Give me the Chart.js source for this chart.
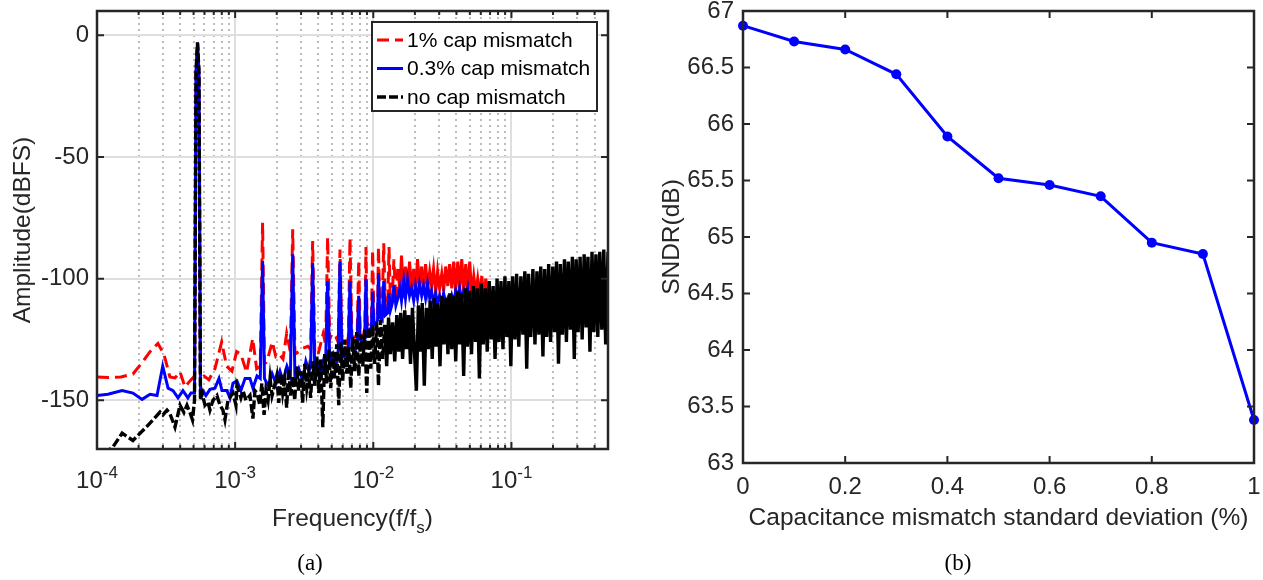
<!DOCTYPE html>
<html>
<head>
<meta charset="utf-8">
<script src="https://cdn.jsdelivr.net/npm/chart.js@4.4.1/dist/chart.umd.min.js"></script>
<style>
html, body { margin: 0; padding: 0; background: #fff; }
#wrap { position: relative; width: 1263px; height: 580px; overflow: hidden; }
canvas { position: absolute; top: 0; }
#ca { left: 0; width: 640px; height: 580px; }
#cb { left: 640px; width: 623px; height: 580px; }
.cap { position: absolute; top: 550px; font: 23px "Liberation Serif", "Times New Roman", serif; color: #000; transform: translateX(-50%); }
</style>
</head>
<body>
<div id="wrap">
<canvas id="ca" width="640" height="580"></canvas>
<canvas id="cb" width="623" height="580"></canvas>
<div class="cap" style="left:310px">(a)</div>
<div class="cap" style="left:958px">(b)</div>
</div>
<script>
const FONT = '"Liberation Sans", Arial, Helvetica, sans-serif';
const INK = '#262626';
const TICK_PX = 24, TITLE_PX = 24.5;

// (a) output spectrum, [f/fs, dBFS]
const red1pct = [
  [1.00e-4, -140.4], [1.20e-4, -140.6], [1.49e-4, -140.4], [1.82e-4, -139.2], [2.12e-4, -134.5], [2.42e-4, -130],
  [2.76e-4, -126.6], [3.05e-4, -131], [3.37e-4, -140.4], [3.67e-4, -140.8], [3.99e-4, -138.3], [4.33e-4, -144.5], [4.71e-4, -142],
  [5.08e-4, -140], [5.21e-4, -15], [5.34e-4, -3], [5.47e-4, -15], [5.61e-4, -141],
  [5.95e-4, -140], [6.46e-4, -141.5], [7.14e-4, -137], [7.99e-4, -126], [8.68e-4, -136], [9.48e-4, -138], [1.025e-3, -130],
  [1.10e-3, -131], [1.21e-3, -138.5], [1.34e-3, -124.6], [1.43e-3, -137],
  [1.52e-3, -136], [1.58e-3, -77], [1.63e-3, -135], [1.70e-3, -134], [1.856e-3, -126], [1.97e-3, -132], [2.085e-3, -131],
  [2.22e-3, -133], [2.36e-3, -122.5],
  [2.51e-3, -130], [2.61e-3, -79.7], [2.71e-3, -131], [2.89e-3, -130], [3.09e-3, -128.6], [3.36e-3, -127.8],
  [3.52e-3, -129], [3.64e-3, -84.5], [3.77e-3, -130], [3.97e-3, -131.4], [4.34e-3, -122.6],
  [4.52e-3, -127], [4.67e-3, -83], [4.84e-3, -125], [4.99e-3, -122.6], [5.36e-3, -124],
  [5.57e-3, -126], [5.74e-3, -88], [5.93e-3, -126], [6.34e-3, -127.8],
  [6.60e-3, -124], [6.78e-3, -83.5], [7.00e-3, -124], [7.36e-3, -124],
  [7.65e-3, -122], [7.84e-3, -92.5], [8.04e-3, -122], [8.45e-3, -124],
  [8.69e-3, -120], [8.85e-3, -87], [9.03e-3, -119], [9.45e-3, -118.5],
  [9.69e-3, -117], [9.89e-3, -88.4], [1.01e-2, -117], [1.057e-2, -115.7],
  [1.074e-2, -114], [1.09e-2, -87], [1.116e-2, -113], [1.16e-2, -112],
  [1.19e-2, -85.5], [1.223e-2, -112], [1.275e-2, -108],
  [1.30e-2, -87], [1.33e-2, -110], [1.375e-2, -106],
  [1.41e-2, -92], [1.457e-2, -109], [1.507e-2, -96],
  [1.558e-2, -105], [1.60e-2, -90.5], [1.66e-2, -108], [1.71e-2, -95], [1.77e-2, -106], [1.83e-2, -93], [1.89e-2, -104],
  [1.96e-2, -96], [2.02e-2, -107], [2.09e-2, -92], [2.16e-2, -103], [2.24e-2, -95], [2.31e-2, -105], [2.39e-2, -94],
  [2.47e-2, -104], [2.56e-2, -97], [2.64e-2, -103], [2.73e-2, -96], [2.83e-2, -106], [2.92e-2, -97], [3.02e-2, -104],
  [3.13e-2, -98], [3.23e-2, -105], [3.34e-2, -95], [3.46e-2, -103], [3.57e-2, -94], [3.70e-2, -104], [3.82e-2, -93],
  [3.95e-2, -105], [4.09e-2, -93], [4.22e-2, -104], [4.37e-2, -92], [4.52e-2, -106], [4.67e-2, -94], [4.83e-2, -105],
  [4.99e-2, -93], [5.16e-2, -107], [5.34e-2, -99], [5.52e-2, -106], [5.70e-2, -100], [5.90e-2, -107], [6.10e-2, -99],
  [6.30e-2, -108], [6.52e-2, -100], [6.74e-2, -110], [7.00e-2, -112]
];

const blue03pct = [
  [1.00e-4, -148], [1.20e-4, -147.5], [1.52e-4, -146], [1.82e-4, -147], [2.12e-4, -149.6], [2.42e-4, -147.5], [2.72e-4, -148],
  [2.99e-4, -136], [3.27e-4, -145], [3.55e-4, -146], [3.86e-4, -149], [4.19e-4, -146], [4.55e-4, -149], [4.79e-4, -147],
  [5.08e-4, -147], [5.21e-4, -15], [5.34e-4, -3], [5.47e-4, -15], [5.61e-4, -147],
  [5.85e-4, -146], [6.15e-4, -148], [6.57e-4, -145.5], [7.14e-4, -145], [7.64e-4, -141], [8.03e-4, -146], [8.72e-4, -146],
  [9.17e-4, -149], [9.64e-4, -143], [1.03e-3, -142], [1.10e-3, -146], [1.18e-3, -141], [1.28e-3, -141], [1.345e-3, -145],
  [1.44e-3, -140],
  [1.52e-3, -141], [1.58e-3, -92.8], [1.63e-3, -141], [1.73e-3, -144], [1.85e-3, -139], [1.97e-3, -143], [2.11e-3, -138],
  [2.22e-3, -142], [2.37e-3, -136],
  [2.51e-3, -140], [2.61e-3, -90], [2.71e-3, -141], [2.89e-3, -137], [3.09e-3, -142], [3.25e-3, -134], [3.42e-3, -138],
  [3.52e-3, -136], [3.64e-3, -93.6], [3.77e-3, -138], [3.97e-3, -135], [4.18e-3, -139], [4.39e-3, -133],
  [4.52e-3, -134], [4.67e-3, -101], [4.84e-3, -134], [5.10e-3, -131], [5.36e-3, -136],
  [5.57e-3, -130], [5.74e-3, -93], [5.93e-3, -131], [6.34e-3, -133],
  [6.60e-3, -128], [6.78e-3, -101], [7.00e-3, -128], [7.36e-3, -130],
  [7.65e-3, -126], [7.84e-3, -107], [8.04e-3, -125], [8.45e-3, -127],
  [8.69e-3, -122], [8.85e-3, -100], [9.03e-3, -123], [9.45e-3, -121],
  [9.69e-3, -120], [9.89e-3, -105.5], [1.01e-2, -119], [1.057e-2, -118],
  [1.074e-2, -117], [1.09e-2, -97.7], [1.116e-2, -116], [1.16e-2, -117],
  [1.19e-2, -101], [1.223e-2, -115], [1.275e-2, -114],
  [1.30e-2, -106], [1.33e-2, -113], [1.375e-2, -110],
  [1.41e-2, -102.8], [1.457e-2, -111], [1.507e-2, -108],
  [1.558e-2, -104], [1.60e-2, -109], [1.66e-2, -101], [1.71e-2, -108], [1.77e-2, -100.5], [1.83e-2, -107], [1.89e-2, -104],
  [1.96e-2, -109], [2.02e-2, -103], [2.09e-2, -108], [2.16e-2, -102], [2.24e-2, -107], [2.31e-2, -103], [2.39e-2, -108],
  [2.47e-2, -102], [2.56e-2, -108], [2.64e-2, -105], [2.73e-2, -110], [2.83e-2, -106], [2.92e-2, -110], [3.02e-2, -107],
  [3.13e-2, -111], [3.23e-2, -106], [3.34e-2, -110], [3.46e-2, -108], [3.57e-2, -111], [3.70e-2, -107], [3.82e-2, -110],
  [3.95e-2, -105], [4.09e-2, -109], [4.22e-2, -104], [4.37e-2, -109], [4.52e-2, -105], [4.67e-2, -108], [4.83e-2, -104],
  [4.99e-2, -110], [5.16e-2, -112]
];

const blackNone = [
  [1.00e-4, -176], [1.124e-4, -172], [1.31e-4, -169], [1.52e-4, -163.5], [1.82e-4, -166.5], [2.30e-4, -160.7], [2.86e-4, -154.8],
  [3.00e-4, -156], [3.21e-4, -154], [3.37e-4, -155.4], [3.67e-4, -161], [3.99e-4, -152], [4.26e-4, -155], [4.48e-4, -152],
  [4.71e-4, -155], [4.91e-4, -158],
  [5.08e-4, -150], [5.21e-4, -15], [5.34e-4, -3], [5.47e-4, -15], [5.61e-4, -150],
  [5.75e-4, -147], [6.05e-4, -152], [6.36e-4, -150.7], [6.57e-4, -154], [6.91e-4, -150], [7.38e-4, -148], [7.76e-4, -152],
  [8.16e-4, -154], [8.44e-4, -158], [8.87e-4, -150], [9.64e-4, -147], [1.013e-3, -152], [1.03e-3, -144], [1.10e-3, -149],
  [1.14e-3, -146], [1.197e-3, -150], [1.28e-3, -148], [1.345e-3, -157.5], [1.39e-3, -146], [1.44e-3, -147], [1.51e-3, -152],
  [1.56e-3, -143], [1.62e-3, -156], [1.67e-3, -146], [1.73e-3, -150], [1.79e-3, -141], [1.85e-3, -148], [1.91e-3, -145],
  [2.00e-3, -140], [2.07e-3, -151], [2.14e-3, -139], [2.21e-3, -147], [2.28e-3, -142], [2.36e-3, -153], [2.44e-3, -137],
  [2.52e-3, -148], [2.61e-3, -140], [2.70e-3, -150], [2.79e-3, -136], [2.88e-3, -146], [2.98e-3, -138], [3.08e-3, -151],
  [3.19e-3, -135], [3.30e-3, -145], [3.41e-3, -139], [3.52e-3, -149], [3.64e-3, -134], [3.77e-3, -144], [3.90e-3, -132],
  [4.03e-3, -147], [4.16e-3, -133], [4.31e-3, -161], [4.45e-3, -131], [4.60e-3, -143], [4.76e-3, -129], [4.92e-3, -145],
  [5.09e-3, -130], [5.26e-3, -141], [5.44e-3, -127], [5.62e-3, -152], [5.81e-3, -126], [6.01e-3, -142], [6.21e-3, -125],
  [6.42e-3, -139], [6.64e-3, -128], [6.87e-3, -145], [7.10e-3, -124], [7.34e-3, -138], [7.59e-3, -122], [7.85e-3, -140],
  [8.11e-3, -123], [8.39e-3, -136], [8.67e-3, -121], [8.97e-3, -147], [9.27e-3, -120], [9.59e-3, -137], [9.91e-3, -119],
  [1.02e-2, -135], [1.06e-2, -118], [1.09e-2, -144], [1.13e-2, -117], [1.17e-2, -133], [1.21e-2, -119], [1.25e-2, -136],
  [1.29e-2, -116], [1.33e-2, -131], [1.38e-2, -118], [1.43e-2, -134], [1.48e-2, -115], [1.53e-2, -130], [1.58e-2, -114],
  [1.63e-2, -133], [1.69e-2, -113], [1.74e-2, -129], [1.80e-2, -115], [1.86e-2, -135], [1.92e-2, -112], [1.99e-2, -131],
  [2.05e-2, -146], [2.12e-2, -111], [2.19e-2, -130], [2.26e-2, -110], [2.34e-2, -144], [2.42e-2, -112], [2.50e-2, -129],
  [2.58e-2, -109], [2.67e-2, -133], [2.76e-2, -108], [2.85e-2, -128], [2.94e-2, -110], [3.04e-2, -136], [3.14e-2, -107],
  [3.25e-2, -127], [3.36e-2, -108], [3.47e-2, -131], [3.58e-2, -106], [3.70e-2, -129], [3.83e-2, -107], [3.95e-2, -134],
  [4.09e-2, -105], [4.22e-2, -127], [4.36e-2, -106], [4.51e-2, -140], [4.66e-2, -104], [4.81e-2, -128], [4.97e-2, -105],
  [5.14e-2, -131], [5.31e-2, -103], [5.49e-2, -126], [5.67e-2, -104], [5.86e-2, -141], [6.05e-2, -102], [6.25e-2, -127],
  [6.46e-2, -104], [6.68e-2, -130], [6.90e-2, -101], [7.13e-2, -125], [7.37e-2, -103], [7.61e-2, -133], [7.87e-2, -100],
  [8.13e-2, -126], [8.40e-2, -101], [8.68e-2, -129], [8.97e-2, -99], [9.27e-2, -124], [9.58e-2, -101], [9.90e-2, -136],
  [1.02e-1, -99], [1.06e-1, -125], [1.09e-1, -98], [1.13e-1, -128], [1.17e-1, -99], [1.21e-1, -123], [1.25e-1, -97],
  [1.29e-1, -137], [1.33e-1, -98], [1.38e-1, -124], [1.43e-1, -96], [1.48e-1, -127], [1.53e-1, -97], [1.58e-1, -123],
  [1.63e-1, -95], [1.69e-1, -132], [1.74e-1, -96], [1.80e-1, -124], [1.86e-1, -94], [1.92e-1, -126], [1.99e-1, -95],
  [2.05e-1, -122], [2.12e-1, -93], [2.19e-1, -135], [2.26e-1, -94], [2.34e-1, -123], [2.42e-1, -92], [2.50e-1, -126],
  [2.58e-1, -93], [2.67e-1, -121], [2.76e-1, -91], [2.85e-1, -133], [2.94e-1, -92], [3.04e-1, -122], [3.14e-1, -91],
  [3.25e-1, -125], [3.36e-1, -90], [3.47e-1, -120], [3.58e-1, -91], [3.70e-1, -130], [3.83e-1, -89], [3.95e-1, -122],
  [4.09e-1, -90], [4.22e-1, -124], [4.36e-1, -89], [4.51e-1, -121], [4.66e-1, -88], [4.81e-1, -127], [5.00e-1, -89]
];

const specLabels = ['1% cap mismatch', '0.3% cap mismatch', 'no cap mismatch'];
const decadeTicks = [1e-4, 1e-3, 1e-2, 1e-1];
const decadeExps = ['-4', '-3', '-2', '-1'];
const minorTicks = [2e-4, 3e-4, 4e-4, 5e-4, 6e-4, 7e-4, 8e-4, 9e-4, 2e-3, 3e-3, 4e-3, 5e-3, 6e-3, 7e-3, 8e-3, 9e-3,
  2e-2, 3e-2, 4e-2, 5e-2, 6e-2, 7e-2, 8e-2, 9e-2, 2e-1, 3e-1, 4e-1];
const ampTicks = [-150, -100, -50, 0];

// (b) SNDR against capacitor mismatch
const mismatchPct = [0, 0.1, 0.2, 0.3, 0.4, 0.5, 0.6, 0.7, 0.8, 0.9, 1];
const sndrDb = [66.87, 66.73, 66.66, 66.44, 65.89, 65.52, 65.46, 65.36, 64.95, 64.85, 63.38];
const sndrXTicks = [0, 0.2, 0.4, 0.6, 0.8, 1];
const sndrYTicks = [63, 63.5, 64, 64.5, 65, 65.5, 66, 66.5, 67];

const toXY = rows => rows.map(([x, y]) => ({ x, y }));
const setTicks = vals => s => { s.ticks = vals.map(v => ({ value: v })); };
const fixW = w => s => { s.width = w; s.paddingTop = 0; s.paddingBottom = 0; };
const fixH = h => s => { s.height = h; s.paddingLeft = 0; s.paddingRight = 0; };
const font = size => ({ family: FONT, size });
// dashes only show where the bins are sparse; in the dense part the trace reads as solid
const dashBelow = (fLimit, dash) => ({ borderDash: c => (c.p0.parsed.x < fLimit ? dash : []) });

// axes box with inward ticks, drawn over the data like MATLAB does
const frame = {
  id: 'frame',
  afterDraw(chart) {
    const { ctx, chartArea: a, scales } = chart;
    ctx.save();
    ctx.strokeStyle = INK;
    ctx.lineWidth = 2;
    ctx.beginPath();
    const mark = (scale, len) => scale.ticks.forEach(t => {
      const p = scale.getPixelForValue(t.value);
      if (scale.isHorizontal()) {
        ctx.moveTo(p, a.bottom); ctx.lineTo(p, a.bottom - len);
        ctx.moveTo(p, a.top); ctx.lineTo(p, a.top + len);
      } else {
        ctx.moveTo(a.left, p); ctx.lineTo(a.left + len, p);
        ctx.moveTo(a.right, p); ctx.lineTo(a.right - len, p);
      }
    });
    mark(scales.x, 7);
    mark(scales.y, 7);
    if (scales.xMinor) mark(scales.xMinor, 4);
    ctx.stroke();
    ctx.lineWidth = 2.5;
    ctx.strokeRect(a.left, a.top, a.right - a.left, a.bottom - a.top);
    ctx.restore();
  }
};

// 10^n tick labels, f/f_s title and the boxed legend of plot (a)
const spectrumText = {
  id: 'spectrumText',
  afterDraw(chart) {
    const { ctx, chartArea: a, scales: { x } } = chart;
    const big = `${TICK_PX}px ${FONT}`, small = `17px ${FONT}`;
    ctx.save();
    ctx.fillStyle = INK;
    ctx.textAlign = 'left';
    ctx.textBaseline = 'alphabetic';
    decadeTicks.forEach((v, i) => {
      const p = x.getPixelForValue(v);
      ctx.font = big; const w1 = ctx.measureText('10').width;
      ctx.font = small; const w2 = ctx.measureText(decadeExps[i]).width;
      const x0 = p - (w1 + w2) / 2;
      ctx.font = big; ctx.fillText('10', x0, 488);
      ctx.font = small; ctx.fillText(decadeExps[i], x0 + w1, 478);
    });

    const tf = `${TITLE_PX}px ${FONT}`, sf = `17px ${FONT}`;
    ctx.font = tf; const t1 = 'Frequency(f/f', w1 = ctx.measureText(t1).width, w3 = ctx.measureText(')').width;
    ctx.font = sf; const w2 = ctx.measureText('s').width;
    const tx = (a.left + a.right) / 2 - (w1 + w2 + w3) / 2;
    ctx.font = tf; ctx.fillText(t1, tx, 526);
    ctx.font = sf; ctx.fillText('s', tx + w1, 533);
    ctx.font = tf; ctx.fillText(')', tx + w1 + w2, 526);

    const box = { l: 372, t: 22, r: 597, b: 111 };
    ctx.fillStyle = '#fff';
    ctx.fillRect(box.l, box.t, box.r - box.l, box.b - box.t);
    ctx.strokeStyle = INK;
    ctx.lineWidth = 2;
    ctx.strokeRect(box.l, box.t, box.r - box.l, box.b - box.t);
    const rows = [40, 68.5, 97];
    chart.data.datasets.forEach((ds, i) => {
      ctx.beginPath();
      ctx.setLineDash(ds.borderDash || []);
      ctx.strokeStyle = ds.borderColor;
      ctx.lineWidth = ds.borderWidth;
      ctx.moveTo(377, rows[i]); ctx.lineTo(403, rows[i]);
      ctx.stroke();
      ctx.setLineDash([]);
      ctx.fillStyle = '#000';
      ctx.font = `21px ${FONT}`;
      ctx.textBaseline = 'middle';
      ctx.fillText(ds.label, 407, rows[i] + 1);
    });
    ctx.restore();
  }
};

new Chart(document.getElementById('ca'), {
  type: 'line',
  data: {
    datasets: [
      { label: specLabels[0], data: toXY(red1pct), borderColor: '#ff0000', borderWidth: 3, borderDash: [12, 6],
        segment: dashBelow(1.5e-2, [12, 6]), order: 3 },
      { label: specLabels[1], data: toXY(blue03pct), borderColor: '#0000ff', borderWidth: 3, order: 2 },
      { label: specLabels[2], data: toXY(blackNone), borderColor: '#000000', borderWidth: 3.4, borderDash: [9, 3],
        segment: dashBelow(1.2e-2, [9, 3]), order: 1 }
    ]
  },
  options: {
    responsive: false, animation: false, events: [],
    layout: { padding: { left: 0, top: 11, right: 32, bottom: 0 }, autoPadding: false },
    elements: { point: { radius: 0 }, line: { tension: 0, fill: false } },
    plugins: { legend: { display: false }, tooltip: { enabled: false } },
    scales: {
      x: {
        type: 'logarithmic', min: 1e-4, max: 0.5,
        afterBuildTicks: setTicks(decadeTicks), afterFit: fixH(131),
        grid: { color: '#dedede', lineWidth: 2, drawTicks: false },
        border: { display: false },
        ticks: { display: false }
      },
      xMinor: {
        type: 'logarithmic', position: 'bottom', min: 1e-4, max: 0.5,
        afterBuildTicks: setTicks(minorTicks), afterFit: fixH(0),
        grid: { color: '#bdbdbd', lineWidth: 2, drawTicks: false },
        border: { display: false, dash: [2, 4] },
        ticks: { display: false }
      },
      y: {
        min: -170, max: 10,
        afterBuildTicks: setTicks(ampTicks), afterFit: fixW(97),
        grid: { color: '#dedede', lineWidth: 2, drawTicks: false },
        border: { display: false },
        ticks: { color: INK, font: font(TICK_PX), padding: 8 },
        title: { display: true, text: 'Amplitude(dBFS)', color: INK, font: font(TITLE_PX), padding: { top: 9, bottom: 0 } }
      }
    }
  },
  plugins: [frame, spectrumText]
});

new Chart(document.getElementById('cb'), {
  type: 'line',
  data: {
    datasets: [{
      data: mismatchPct.map((v, i) => ({ x: v, y: sndrDb[i] })),
      borderColor: '#0000ff', backgroundColor: '#0000ff', borderWidth: 3,
      pointRadius: 5, pointBorderWidth: 0, pointBackgroundColor: '#0000ff', clip: 10
    }]
  },
  options: {
    responsive: false, animation: false, events: [],
    layout: { padding: { left: 0, top: 11, right: 9, bottom: 0 }, autoPadding: false },
    elements: { line: { tension: 0 } },
    plugins: { legend: { display: false }, tooltip: { enabled: false } },
    scales: {
      x: {
        type: 'linear', min: 0, max: 1,
        afterBuildTicks: setTicks(sndrXTicks), afterFit: fixH(117),
        grid: { display: false, drawTicks: false },
        border: { display: false },
        ticks: { color: INK, font: font(TICK_PX), padding: 10, callback: v => String(v) },
        title: { display: true, text: 'Capacitance mismatch standard deviation (%)', color: INK, font: font(TITLE_PX), padding: { top: 0, bottom: 47 } }
      },
      y: {
        min: 63, max: 67,
        afterBuildTicks: setTicks(sndrYTicks), afterFit: fixW(103),
        grid: { display: false, drawTicks: false },
        border: { display: false },
        ticks: { color: INK, font: font(TICK_PX), padding: 9, callback: v => String(v) },
        title: { display: true, text: 'SNDR(dB)', color: INK, font: font(TITLE_PX), padding: { top: 18, bottom: 0 } }
      }
    }
  },
  plugins: [frame]
});
</script>
</body>
</html>
